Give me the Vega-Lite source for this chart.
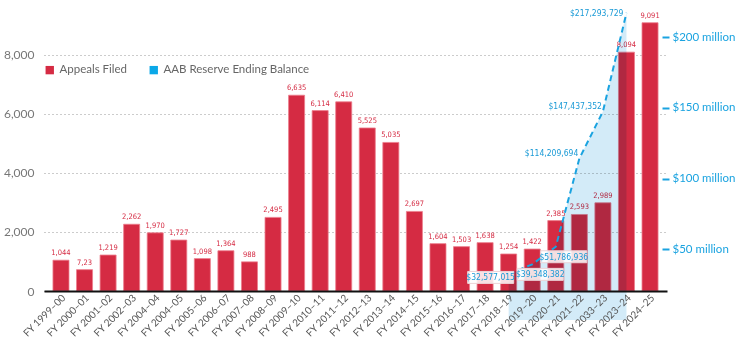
{
  "$schema": "https://vega.github.io/schema/vega-lite/v6.json",
  "width": 623,
  "height": 286,
  "autosize": {"type": "none"},
  "padding": {"left": 44, "top": 5, "right": 71, "bottom": 65},
  "background": "white",
  "config": {"view": {"stroke": null}, "font": "Lato"},
  "data": {
    "values": [
      {"year": "FY 1999–00", "appeals": 1044, "label": "1,044", "balance": null},
      {"year": "FY 2000–01", "appeals": 723, "label": "7,23", "balance": null},
      {"year": "FY 2001–02", "appeals": 1219, "label": "1,219", "balance": null},
      {"year": "FY 2002–03", "appeals": 2262, "label": "2,262", "balance": null},
      {"year": "FY 2004–04", "appeals": 1970, "label": "1,970", "balance": null},
      {"year": "FY 2004–05", "appeals": 1727, "label": "1,727", "balance": null},
      {"year": "FY 2005–06", "appeals": 1098, "label": "1,098", "balance": null},
      {"year": "FY 2006–07", "appeals": 1364, "label": "1,364", "balance": null},
      {"year": "FY 2007–08", "appeals": 988, "label": "988", "balance": null},
      {"year": "FY 2008–09", "appeals": 2495, "label": "2,495", "balance": null},
      {"year": "FY 2009–10", "appeals": 6635, "label": "6,635", "balance": null},
      {"year": "FY 2010–11", "appeals": 6114, "label": "6,114", "balance": null},
      {"year": "FY 2011–12", "appeals": 6410, "label": "6,410", "balance": null},
      {"year": "FY 2012–13", "appeals": 5525, "label": "5,525", "balance": null},
      {"year": "FY 2013–14", "appeals": 5035, "label": "5,035", "balance": null},
      {"year": "FY 2014–15", "appeals": 2697, "label": "2,697", "balance": null},
      {"year": "FY 2015–16", "appeals": 1604, "label": "1,604", "balance": null},
      {"year": "FY 2016–17", "appeals": 1503, "label": "1,503", "balance": null},
      {"year": "FY 2017–18", "appeals": 1638, "label": "1,638", "balance": null},
      {"year": "FY 2018–19", "appeals": 1254, "label": "1,254", "balance": 32577015},
      {"year": "FY 2019–20", "appeals": 1422, "label": "1,422", "balance": 39348382},
      {"year": "FY 2020–21", "appeals": 2385, "label": "2,385", "balance": 51786936},
      {"year": "FY 2021–22", "appeals": 2593, "label": "2,593", "balance": 114209694},
      {"year": "FY 2033–23", "appeals": 2989, "label": "2,989", "balance": 147437352},
      {"year": "FY 2023–24", "appeals": 8094, "label": "8,094", "balance": 217293729},
      {"year": "FY 2024–25", "appeals": 9091, "label": "9,091", "balance": null}
    ]
  },
  "encoding": {
    "x": {
      "field": "year",
      "type": "nominal",
      "sort": null,
      "scale": {"paddingInner": 0.32, "paddingOuter": 0.38},
      "axis": {
        "title": null,
        "labelAngle": -45,
        "labelAlign": "right",
        "labelBaseline": "middle",
        "labelOffset": 3,
        "domain": true,
        "domainColor": "#111111",
        "domainWidth": 2,
        "ticks": false,
        "labelColor": "#555555",
        "labelFontSize": 10,
        "labelPadding": 5,
        "zindex": 1
      }
    }
  },
  "layer": [
    {
      "encoding": {
        "y": {
          "field": "appeals",
          "type": "quantitative",
          "scale": {"domain": [0, 9692], "nice": false},
          "axis": {
            "title": null,
            "values": [0, 2000, 4000, 6000, 8000],
            "format": ",d",
            "domain": false,
            "ticks": false,
            "labelPadding": 10,
            "labelColor": "#777777",
            "labelFontSize": 12,
            "grid": true,
            "gridDash": [1, 3],
            "gridColor": "#999999",
            "gridWidth": 1
          }
        }
      },
      "layer": [
        {
          "mark": {"type": "bar", "stroke": "#ec7d8c", "strokeWidth": 1, "strokeOpacity": 0.8},
          "encoding": {
            "color": {
              "datum": "Appeals Filed",
              "type": "nominal",
              "scale": {
                "domain": ["Appeals Filed", "AAB Reserve Ending Balance"],
                "range": ["#d52b43", "#0aa8e8"]
              },
              "legend": {
                "title": null,
                "orient": "none",
                "legendX": 0,
                "legendY": 59,
                "direction": "horizontal",
                "symbolType": "square",
                "symbolSize": 70,
                "symbolStrokeWidth": 0,
                "labelFontSize": 11.5,
                "labelColor": "#666666",
                "columnPadding": 20
              }
            }
          }
        },
        {
          "mark": {"type": "text", "baseline": "bottom", "dy": -3, "color": "#d52b43", "font": "'DejaVu Sans Condensed', Roboto", "fontSize": 7.5},
          "encoding": {"text": {"field": "label"}}
        }
      ]
    },
    {
      "transform": [{"filter": "isValid(datum.balance)"}],
      "encoding": {
        "y": {
          "field": "balance",
          "type": "quantitative",
          "scale": {"domain": [20500000, 222800000], "nice": false, "zero": false},
          "axis": {
            "orient": "right",
            "title": null,
            "values": [50000000, 100000000, 150000000, 200000000],
            "labelExpr": "'$' + (datum.value / 1000000) + ' million'",
            "domain": false,
            "grid": false,
            "ticks": true,
            "tickColor": "#1aa3e0",
            "tickSize": 7,
            "tickWidth": 2,
            "labelColor": "#1aa3e0",
            "labelFontSize": 11.5,
            "labelPadding": 3,
            "offset": -5
          }
        }
      },
      "layer": [
        {"mark": {"type": "area", "color": "#d3ebf8", "blend": "multiply"}},
        {"mark": {"type": "line", "color": "#1aa3e0", "strokeDash": [6, 4], "strokeWidth": 2}},
        {
          "transform": [{"filter": {"field": "year", "equal": "FY 2018–19"}}],
          "mark": {"type": "point", "shape": "M-1,-0.26H1V0.26H-1Z", "size": 2116, "filled": true, "fill": "white", "fillOpacity": 0.85, "stroke": "#ecd3d7", "strokeWidth": 1, "opacity": 1, "xOffset": -18, "yOffset": 3.5}
        },
        {
          "transform": [{"filter": {"field": "year", "oneOf": ["FY 2019–20", "FY 2020–21"]}}],
          "mark": {"type": "point", "shape": "M-1,-0.26H1V0.26H-1Z", "size": 2116, "filled": true, "fill": "white", "fillOpacity": 0.85, "stroke": "#ecd3d7", "strokeWidth": 1, "opacity": 1, "xOffset": 8, "yOffset": 10}
        },
        {
          "transform": [{"filter": {"field": "year", "equal": "FY 2018–19"}}],
          "mark": {"type": "text", "align": "center", "baseline": "middle", "dx": -18, "dy": 3.5, "color": "#1a9ad6", "font": "'DejaVu Sans Condensed', Roboto", "fontSize": 8.5},
          "encoding": {"text": {"field": "balance", "type": "quantitative", "format": "$,.0f"}}
        },
        {
          "transform": [{"filter": {"field": "year", "oneOf": ["FY 2019–20", "FY 2020–21"]}}],
          "mark": {"type": "text", "align": "center", "baseline": "middle", "dx": 8, "dy": 10, "color": "#1a9ad6", "font": "'DejaVu Sans Condensed', Roboto", "fontSize": 8.5},
          "encoding": {"text": {"field": "balance", "type": "quantitative", "format": "$,.0f"}}
        },
        {
          "transform": [{"filter": {"field": "year", "oneOf": ["FY 2021–22", "FY 2033–23"]}}],
          "mark": {"type": "text", "align": "right", "baseline": "middle", "dx": -1, "dy": -6, "color": "#1a9ad6", "font": "'DejaVu Sans Condensed', Roboto", "fontSize": 8.5},
          "encoding": {"text": {"field": "balance", "type": "quantitative", "format": "$,.0f"}}
        },
        {
          "transform": [{"filter": {"field": "year", "equal": "FY 2023–24"}}],
          "mark": {"type": "text", "align": "right", "baseline": "middle", "dx": -3, "dy": 0, "color": "#1a9ad6", "font": "'DejaVu Sans Condensed', Roboto", "fontSize": 8.5},
          "encoding": {"text": {"field": "balance", "type": "quantitative", "format": "$,.0f"}}
        }
      ]
    }
  ],
  "resolve": {"scale": {"y": "independent"}}
}
